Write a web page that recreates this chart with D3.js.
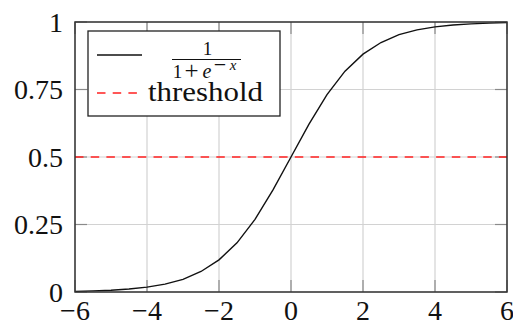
<!DOCTYPE html>
<html>
<head>
<meta charset="utf-8">
<script src="https://cdn.jsdelivr.net/npm/d3@7"></script>
<style>
  html, body { margin: 0; padding: 0; background: #fff; }
  svg { display: block; }
  text { font-family: "Liberation Serif", "Times New Roman", serif; fill: #111; }
</style>
</head>
<body>
<svg id="chart" width="513" height="325"></svg>
<script>
// Logistic curve sampled every 0.5 on [-6, 6]
const xSamples = [-6, -5.5, -5, -4.5, -4, -3.5, -3, -2.5, -2, -1.5, -1, -0.5,
                  0, 0.5, 1, 1.5, 2, 2.5, 3, 3.5, 4, 4.5, 5, 5.5, 6];
const sigmoidValues = [0.0025, 0.0041, 0.0067, 0.011, 0.018, 0.029, 0.047, 0.076,
                       0.119, 0.182, 0.269, 0.378, 0.5, 0.622, 0.731, 0.818,
                       0.881, 0.924, 0.953, 0.971, 0.982, 0.989, 0.993, 0.996, 0.9975];
const thresholdValue = 0.5;
const xTicks = [-6, -4, -2, 0, 2, 4, 6];
const yTicks = [0, 0.25, 0.5, 0.75, 1];
const yTickLabels = ["0", "0.25", "0.5", "0.75", "1"];

const svg = d3.select("#chart");
const plotLeft = 75, plotRight = 507, plotTop = 22, plotBottom = 292;

const x = d3.scaleLinear().domain([-6, 6]).range([plotLeft, plotRight]);
const y = d3.scaleLinear().domain([0, 1]).range([plotBottom, plotTop]);

const fmtX = d => (d < 0 ? "\u2212" + Math.abs(d) : String(d));

// Grid
const grid = svg.append("g");
grid.selectAll("line.gx").data(xTicks).join("line")
  .attr("x1", d => x(d)).attr("x2", d => x(d))
  .attr("y1", plotTop).attr("y2", plotBottom)
  .attr("stroke", "#d2d2d2").attr("stroke-width", 1.2);
grid.selectAll("line.gy").data(yTicks).join("line")
  .attr("y1", d => y(d)).attr("y2", d => y(d))
  .attr("x1", plotLeft).attr("x2", plotRight)
  .attr("stroke", "#d2d2d2").attr("stroke-width", 1.2);

// Inward ticks on all four sides
const tickLen = 12;
const ticks = svg.append("g").attr("stroke", "#8a8a8a").attr("stroke-width", 1.2);
xTicks.forEach(d => {
  ticks.append("line").attr("x1", x(d)).attr("x2", x(d)).attr("y1", plotBottom).attr("y2", plotBottom - tickLen);
  ticks.append("line").attr("x1", x(d)).attr("x2", x(d)).attr("y1", plotTop).attr("y2", plotTop + tickLen);
});
yTicks.forEach(d => {
  ticks.append("line").attr("y1", y(d)).attr("y2", y(d)).attr("x1", plotLeft).attr("x2", plotLeft + tickLen);
  ticks.append("line").attr("y1", y(d)).attr("y2", y(d)).attr("x1", plotRight).attr("x2", plotRight - tickLen);
});

// Threshold line
svg.append("line")
  .attr("x1", x(-6)).attr("x2", x(6))
  .attr("y1", y(thresholdValue)).attr("y2", y(thresholdValue))
  .attr("stroke", "#ff2020").attr("stroke-width", 1.4)
  .attr("stroke-dasharray", "8.5,7.2");

// Sigmoid curve
const line = d3.line().x((d, i) => x(xSamples[i])).y(d => y(d));
svg.append("path")
  .datum(sigmoidValues)
  .attr("d", line)
  .attr("fill", "none")
  .attr("stroke", "#111").attr("stroke-width", 1.4);

// Frame
svg.append("rect")
  .attr("x", plotLeft).attr("y", plotTop)
  .attr("width", plotRight - plotLeft).attr("height", plotBottom - plotTop)
  .attr("fill", "none").attr("stroke", "#333").attr("stroke-width", 1.5);

// Tick labels
svg.append("g").selectAll("text").data(xTicks).join("text")
  .attr("x", d => x(d)).attr("y", 320)
  .attr("text-anchor", "middle")
  .attr("font-size", 28)
  .text(fmtX);
svg.append("g").selectAll("text").data(yTicks).join("text")
  .attr("x", 63).attr("y", d => y(d) + 9.5)
  .attr("text-anchor", "end")
  .attr("font-size", 28)
  .text((d, i) => yTickLabels[i]);

// Legend
const lg = svg.append("g");
lg.append("rect")
  .attr("x", 88).attr("y", 31).attr("width", 192).attr("height", 85)
  .attr("fill", "#fff").attr("stroke", "#222").attr("stroke-width", 1.3);
lg.append("line").attr("x1", 97).attr("x2", 142).attr("y1", 55).attr("y2", 55)
  .attr("stroke", "#111").attr("stroke-width", 1.4);
lg.append("line").attr("x1", 97).attr("x2", 142).attr("y1", 93).attr("y2", 93)
  .attr("stroke", "#ff2020").attr("stroke-width", 1.4).attr("stroke-dasharray", "8.5,7.2");

// Fraction 1 / (1 + e^{-x})
lg.append("text").attr("x", 207.5).attr("y", 55).attr("text-anchor", "middle")
  .attr("font-size", 19).text("1");
lg.append("line").attr("x1", 172).attr("x2", 241).attr("y1", 59.5).attr("y2", 59.5)
  .attr("stroke", "#111").attr("stroke-width", 1.1);
// Denominator: one text element, each glyph placed with its own tspan
const den = lg.append("text").attr("text-anchor", "middle");
const denParts = [
  { t: "1",      x: 177.5, y: 78,   size: 19, italic: false },
  { t: "+",      x: 191.5, y: 78.5, size: 25, italic: false },
  { t: "e",      x: 207,   y: 78,   size: 20, italic: true },
  { t: "\u2212", x: 220,   y: 71.5, size: 22, italic: false },
  { t: "x",      x: 233,   y: 70,   size: 15, italic: true }
];
denParts.forEach(p => {
  den.append("tspan")
    .attr("x", p.x).attr("y", p.y)
    .attr("font-size", p.size)
    .attr("font-style", p.italic ? "italic" : "normal")
    .text(p.t);
});

lg.append("text").attr("x", 148).attr("y", 101).attr("font-size", 28)
  .attr("textLength", 115).attr("lengthAdjust", "spacingAndGlyphs")
  .text("threshold");
</script>
</body>
</html>
